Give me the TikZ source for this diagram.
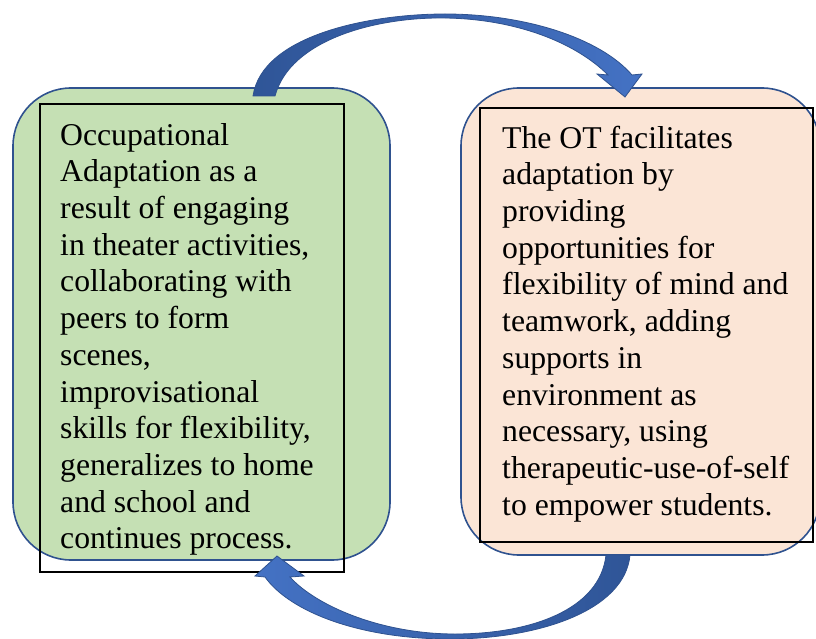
\documentclass[tikz,border=0pt]{standalone}
\usepackage{fontspec}
\setmainfont{Liberation Serif}
\usepackage{tikz}
\definecolor{boxline}{RGB}{47,82,143}
\definecolor{greenfill}{RGB}{197,224,180}
\definecolor{peachfill}{RGB}{251,229,214}
\definecolor{darkblue}{RGB}{47,85,151}
\definecolor{lightblue}{RGB}{68,114,196}
\tikzset{
  roundbox/.style={draw=boxline, line width=1.6pt, rounded corners=58pt, inner sep=0pt},
  framebox/.style={draw=black, line width=1.3pt, inner sep=0pt},
  boxtext/.style={anchor=north west, align=left, inner sep=0pt, font=\fontsize{31.7}{36.7}\selectfont},
  bluearrow/.style={draw=boxline, line width=0.8pt}
}
\begin{document}
\begin{tikzpicture}[x=1pt,y=-1pt]
    \useasboundingbox (0,0) rectangle (816,639);
    % 绘制两个圆角框
    \node[roundbox, fill=greenfill, minimum width=377pt, minimum height=472pt] (leftbox) at (201.5,324) {};
    \node[roundbox, fill=peachfill, minimum width=359pt, minimum height=467pt] (rightbox) at (640.5,321.5) {};
    \node[framebox, minimum width=304pt, minimum height=468pt] (leftframe) at (192,338) {};
    \node[framebox, minimum width=333pt, minimum height=434pt] (rightframe) at (646.5,325) {};

    \node[boxtext] (lefttext) at (60,119.3) {\strut Occupational\\ Adaptation as a\\ result of engaging\\ in theater activities,\\ collaborating with\\ peers to form\\ scenes,\\ improvisational\\ skills for flexibility,\\ generalizes to home\\ and school and\\ continues process.};
    \node[boxtext] (righttext) at (502,122.3) {\strut The OT facilitates\\ adaptation by\\ providing\\ opportunities for\\ flexibility of mind and\\ teamwork, adding\\ supports in\\ environment as\\ necessary, using\\ therapeutic-use-of-self\\ to empower students.};

    % 绘制弯箭头
    \draw[bluearrow, left color=darkblue, right color=lightblue]
      (253,96) .. controls (262,35) and (370,14) .. (445,14)
      .. controls (525,14) and (600,38) .. (632,75)
      -- (642,74) -- (625,97) -- (597,74) -- (608,75)
      .. controls (575,42) and (515,19) .. (445,18)
      .. controls (375,17) and (290,40) .. (275,96) -- cycle;
    \draw[bluearrow, left color=lightblue, right color=darkblue]
      (630,555) .. controls (625,610) and (540,639) .. (450,639)
      .. controls (360,639) and (290,612) .. (265,577)
      -- (255,576) -- (277,556) -- (304,576) -- (290,577)
      .. controls (315,605) and (380,634) .. (455,634)
      .. controls (530,634) and (600,610) .. (606,555) -- cycle;
\end{tikzpicture}
\end{document}
